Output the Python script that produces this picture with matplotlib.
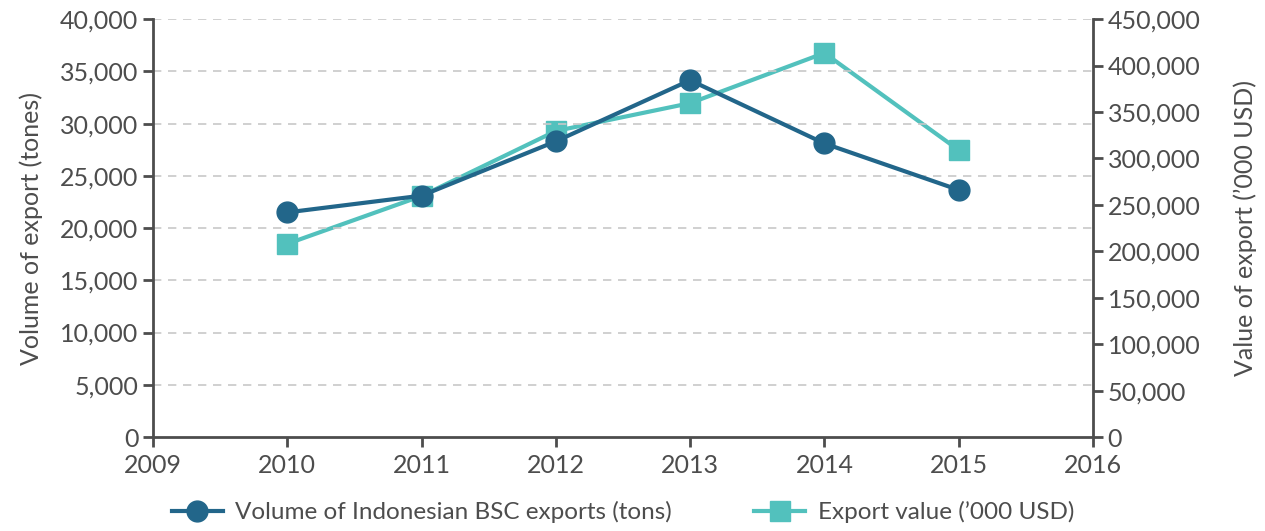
import matplotlib
matplotlib.use("Agg")
import matplotlib.pyplot as plt
from matplotlib.ticker import FuncFormatter

plt.rcParams['font.family'] = ['Lato', 'DejaVu Sans']

years = [2010, 2011, 2012, 2013, 2014, 2015]
volume = [21500, 23100, 28300, 34150, 28100, 23650]          # tons
value = [208000, 259500, 329500, 359500, 413500, 309000]     # '000 USD

dark = '#22668a'
teal = '#52c1bd'
grey = '#4d4d4d'
fs = 18

fig = plt.figure(figsize=(12.65, 5.31), dpi=100)
ax = fig.add_axes([0.1209, 0.177, 0.7431, 0.787])
ax2 = ax.twinx()

l1, = ax.plot(years, volume, color=dark, lw=3, marker='o', markersize=15,
              label='Volume of Indonesian BSC exports (tons)', zorder=4)
l2, = ax2.plot(years, value, color=teal, lw=3, marker='s', markersize=14,
               label='Export value (’000 USD)', zorder=3)
ax.set_zorder(ax2.get_zorder() + 1)
ax.patch.set_visible(False)

ax.set_xlim(2009, 2016)
ax.set_ylim(0, 40000)
ax2.set_ylim(0, 450000)
ax.set_xticks(range(2009, 2017))
ax.set_yticks(range(0, 40001, 5000))
ax2.set_yticks(range(0, 450001, 50000))

fmt = FuncFormatter(lambda v, p: f'{int(v):,}')
ax.yaxis.set_major_formatter(fmt)
ax2.yaxis.set_major_formatter(fmt)

for y in range(5000, 40001, 5000):
    ax.axhline(y, color='#c8c8c8', lw=1.2, ls=(0, (5, 4)), zorder=0)

for a in (ax, ax2):
    for s in a.spines.values():
        s.set_visible(False)
    a.tick_params(colors=grey, labelcolor=grey, labelsize=fs, width=2, length=7)
ax.spines['left'].set_visible(True)
ax.spines['bottom'].set_visible(True)
ax2.spines['right'].set_visible(True)
for s in (ax.spines['left'], ax.spines['bottom'], ax2.spines['right']):
    s.set_color(grey)
    s.set_linewidth(2)
ax.tick_params(axis='x', pad=5)

ax.set_ylabel('Volume of export (tones)', fontsize=fs, color=grey, labelpad=12)
ax2.set_ylabel('Value of export (’000 USD)', fontsize=fs, color=grey, labelpad=24)

ax.legend([l1, l2], [l1.get_label(), l2.get_label()], loc='center',
          bbox_to_anchor=(0.5, -0.18), ncol=2, frameon=False, fontsize=17.5,
          labelcolor=grey, handlelength=2.1, columnspacing=3.4, handletextpad=0.5)

fig.savefig('out.png', dpi=100)
